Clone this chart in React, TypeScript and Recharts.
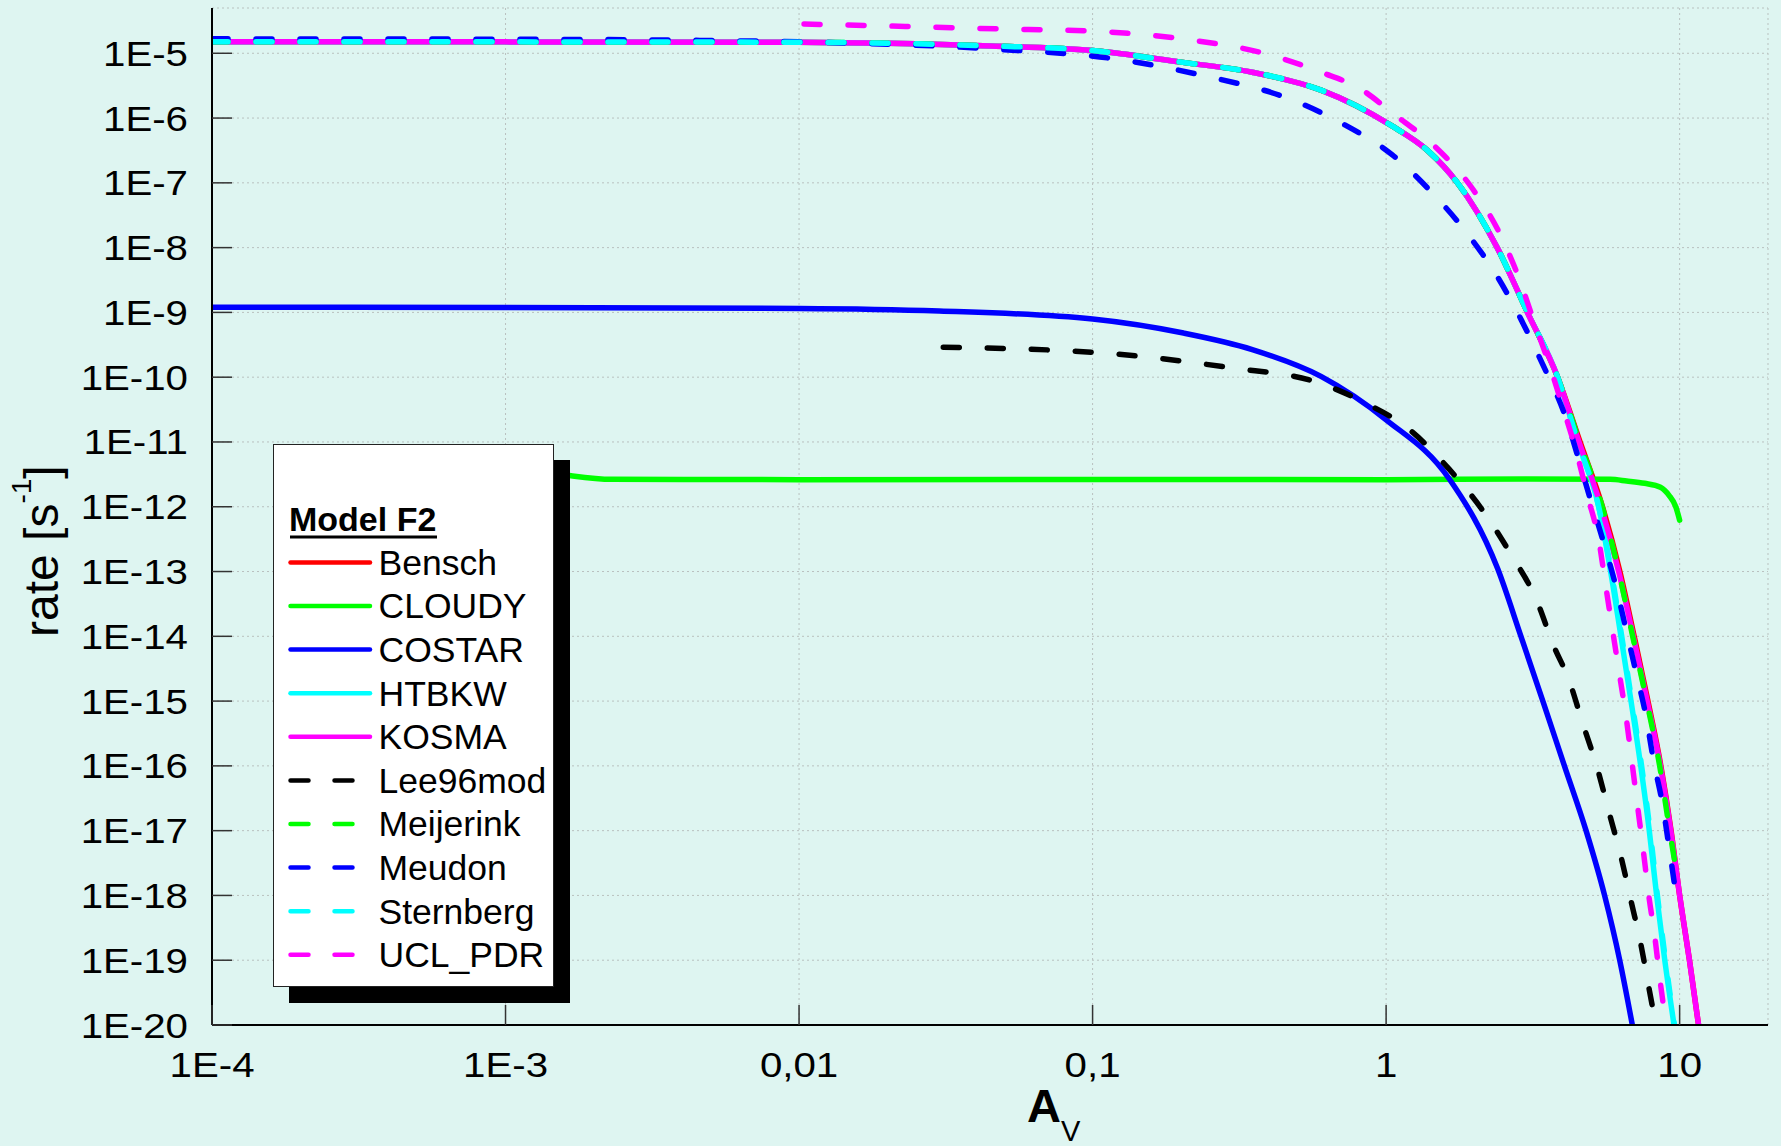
import React from 'react';
import { LineChart, Line, XAxis, YAxis, CartesianGrid } from 'recharts';

const W = 1781;
const H = 1146;
const PLOT_L = 212;
const PLOT_R = 1768;
const PLOT_T = 8;
const PLOT_B = 1025;
const BG = '#def5f1';
const FONT = '"Liberation Sans", Arial, sans-serif';

// axis ticks
const AV_MAJOR = [1e-4, 1e-3, 0.01, 0.1, 1, 10];
const AV_LABELS = ['1E-4', '1E-3', '0,01', '0,1', '1', '10'];
const RATE_MAJOR = [1e-20, 1e-19, 1e-18, 1e-17, 1e-16, 1e-15, 1e-14, 1e-13, 1e-12, 1e-11, 1e-10, 1e-9, 1e-8, 1e-7, 1e-6, 1e-5];
const RATE_LABELS = ['1E-20', '1E-19', '1E-18', '1E-17', '1E-16', '1E-15', '1E-14', '1E-13', '1E-12', '1E-11', '1E-10', '1E-9', '1E-8', '1E-7', '1E-6', '1E-5'];

// [A_V, rate] per model
const BENSCH: [number, number][] = [
  [1e-4, 1.5e-5], [1e-3, 1.5e-5], [0.01, 1.48e-5], [0.02, 1.43e-5], [0.045, 1.3e-5], [0.1, 1.1e-5],
  [0.2, 7.3e-6], [0.35, 5.1e-6], [0.6, 2.7e-6], [1.04, 7.7e-7], [1.38, 3.2e-7], [1.75, 1e-7],
  [2.39, 1e-8], [3.03, 1e-9], [3.84, 1e-10], [4.58, 1e-11], [5.46, 1e-12], [6.26, 1e-13],
  [7.0, 1e-14], [7.8, 1e-15], [8.63, 1e-16], [9.35, 1e-17], [10.0, 1e-18], [10.8, 1e-19], [11.6, 1e-20],
];
const CLOUDY: [number, number][] = [
  [1e-3, 4e-12], [1.5e-3, 3.2e-12], [2.3e-3, 2.65e-12], [0.01, 2.62e-12], [0.1, 2.64e-12], [1, 2.62e-12],
  [3, 2.68e-12], [5.8, 2.65e-12], [6.6, 2.5e-12], [7.6, 2.3e-12], [8.6, 2.0e-12], [9.2, 1.5e-12],
  [9.7, 1.0e-12], [10.0, 6.2e-13],
];
const COSTAR: [number, number][] = [
  [1e-4, 1.2e-9], [1e-3, 1.19e-9], [0.01, 1.15e-9], [0.03, 1.05e-9], [0.1, 7.9e-10], [0.204, 4.8e-10],
  [0.35, 2.67e-10], [0.6, 1.03e-10], [1.0, 2.2e-11], [1.64, 2.7e-12], [2.4, 1.1e-13], [2.88, 1e-14],
  [3.42, 1e-15], [4.05, 1e-16], [4.8, 1e-17], [5.55, 1e-18], [6.25, 1e-19], [6.9, 1e-20],
];
const HTBKW: [number, number][] = [
  [1e-4, 1.5e-5], [1e-3, 1.5e-5], [0.01, 1.48e-5], [0.02, 1.43e-5], [0.045, 1.3e-5], [0.1, 1.1e-5],
  [0.2, 7.3e-6], [0.35, 5.1e-6], [0.6, 2.7e-6], [1.04, 7.7e-7], [1.38, 3.2e-7], [1.75, 1e-7],
  [2.39, 1e-8], [3.03, 1e-9], [3.84, 1e-10], [4.5, 1e-11], [5.3, 1e-12], [5.82, 1e-13],
  [6.31, 1e-14], [6.83, 1e-15], [7.37, 1e-16], [7.88, 1e-17], [8.35, 1e-18], [8.9, 1e-19], [9.57, 1e-20],
];
const KOSMA: [number, number][] = [
  [1e-4, 1.5e-5], [1e-3, 1.5e-5], [0.01, 1.48e-5], [0.02, 1.43e-5], [0.045, 1.3e-5], [0.1, 1.1e-5],
  [0.2, 7.3e-6], [0.35, 5.1e-6], [0.6, 2.7e-6], [1.04, 7.7e-7], [1.38, 3.2e-7], [1.75, 1e-7],
  [2.39, 1e-8], [3.03, 1e-9], [3.84, 1e-10], [4.54, 1e-11], [5.4, 1e-12], [6.2, 1e-13],
  [6.95, 1e-14], [7.75, 1e-15], [8.6, 1e-16], [9.33, 1e-17], [10.0, 1e-18], [10.8, 1e-19], [11.6, 1e-20],
];
const LEE96MOD: [number, number][] = [
  [0.031, 2.9e-10], [0.103, 2.4e-10], [0.294, 1.4e-10], [0.59, 8.2e-11], [0.84, 4.1e-11], [1.19, 1.6e-11],
  [1.64, 3.8e-12], [2.16, 8.1e-13], [2.67, 1.8e-13], [3.24, 3.8e-14], [3.73, 7e-15], [4.2, 2.1e-15],
  [4.67, 4.6e-16], [5.25, 9e-17], [5.75, 1.9e-17], [6.31, 4e-18], [6.83, 8.2e-19], [7.37, 1.8e-19],
  [7.88, 3.5e-20], [8.3, 1e-20],
];
const MEIJERINK: [number, number][] = [
  [1e-4, 1.5e-5], [1e-3, 1.5e-5], [0.01, 1.48e-5], [0.02, 1.43e-5], [0.045, 1.3e-5], [0.1, 1.1e-5],
  [0.2, 7.3e-6], [0.35, 5.1e-6], [0.6, 2.7e-6], [1.04, 7.7e-7], [1.38, 3.2e-7], [1.75, 1e-7],
  [2.39, 1e-8], [3.03, 1e-9], [3.84, 1e-10], [4.56, 1e-11], [5.45, 1e-12], [6.2, 1e-13],
  [6.92, 1e-14], [7.72, 1e-15], [8.55, 1e-16], [9.25, 1e-17], [9.74, 2.4e-18],
];
const MEUDON: [number, number][] = [
  [1e-4, 1.67e-5], [1e-3, 1.65e-5], [4.6e-3, 1.58e-5], [0.01, 1.5e-5], [0.045, 1.17e-5], [0.119, 8.2e-6],
  [0.24, 4.5e-6], [0.48, 1.9e-6], [0.71, 8.2e-7], [1.05, 2.7e-7], [1.4, 7.9e-8], [1.88, 1.7e-8],
  [2.39, 3.6e-9], [2.89, 7.6e-10], [3.41, 1.6e-10], [4.04, 2.8e-11], [4.92, 1.5e-12], [5.46, 3.2e-13],
  [6.06, 6e-14], [6.56, 1.3e-14], [7.1, 2.8e-15], [7.67, 6e-16], [8.15, 1.2e-16], [8.75, 2.5e-17],
  [9.21, 5.4e-18], [9.8, 8e-19],
];
const STERNBERG: [number, number][] = [
  [1e-4, 1.5e-5], [1e-3, 1.5e-5], [0.01, 1.48e-5], [0.02, 1.43e-5], [0.045, 1.3e-5], [0.1, 1.1e-5],
  [0.2, 7.3e-6], [0.35, 5.1e-6], [0.6, 2.7e-6], [1.04, 7.7e-7], [1.38, 3.2e-7], [1.75, 1e-7],
  [2.39, 1e-8], [3.03, 1e-9], [3.84, 1e-10], [4.5, 1e-11], [5.3, 1e-12], [5.85, 1e-13],
  [6.35, 1e-14], [6.87, 1e-15], [7.42, 1e-16], [7.93, 1e-17], [8.4, 1e-18], [8.95, 1e-19], [9.6, 1e-20],
];
const UCL_PDR: [number, number][] = [
  [0.0104, 2.83e-5], [0.023, 2.6e-5], [0.05, 2.37e-5], [0.1, 2.2e-5], [0.204, 1.66e-5], [0.39, 9.8e-6],
  [0.6, 5.1e-6], [0.83, 2.7e-6], [1.05, 1.2e-6], [1.47, 3.6e-7], [1.97, 8.1e-8], [2.43, 1.7e-8],
  [2.82, 3.6e-9], [3.19, 7.2e-10], [3.59, 1.6e-10], [4.02, 3.2e-11], [4.44, 7.3e-12], [4.85, 1.5e-12],
  [5.32, 2.8e-13], [5.6, 6e-14], [5.9, 1.3e-14], [6.22, 2.8e-15], [6.56, 6e-16], [6.87, 1.2e-16],
  [7.18, 2.5e-17], [7.5, 5.4e-18], [7.85, 1e-18], [8.24, 2.2e-19], [8.58, 4.8e-20], [9.0, 1e-20],
];

const SERIES = [
  { name: 'Bensch', color: '#ff0000', dashed: false, data: BENSCH },
  { name: 'CLOUDY', color: '#00ff00', dashed: false, data: CLOUDY },
  { name: 'COSTAR', color: '#0000ff', dashed: false, data: COSTAR },
  { name: 'HTBKW', color: '#00ffff', dashed: false, data: HTBKW },
  { name: 'KOSMA', color: '#ff00ff', dashed: false, data: KOSMA },
  { name: 'Lee96mod', color: '#000000', dashed: true, data: LEE96MOD },
  { name: 'Meijerink', color: '#00ff00', dashed: true, data: MEIJERINK },
  { name: 'Meudon', color: '#0000ff', dashed: true, data: MEUDON },
  { name: 'Sternberg', color: '#00ffff', dashed: true, data: STERNBERG },
  { name: 'UCL_PDR', color: '#ff00ff', dashed: true, data: UCL_PDR },
];

// log minor ticks 2..9 in each decade
const minorsOf = (majors: number[], max: number) => {
  const out: number[] = [];
  majors.forEach((m) => {
    for (let k = 2; k <= 9; k++) if (k * m < max * 0.999) out.push(k * m);
  });
  return out;
};
const AV_MINOR = minorsOf(AV_MAJOR, 20);
const RATE_MINOR = minorsOf(RATE_MAJOR, 5e-5);
const AV_ALL = [...AV_MAJOR, ...AV_MINOR].sort((a, b) => a - b);
const RATE_ALL = [...RATE_MAJOR, ...RATE_MINOR].sort((a, b) => a - b);

const findMajor = (list: number[], v: number) => list.findIndex((m) => Math.abs(m - v) / m < 1e-9);
const TICK = '#333';

const BottomMajorTick = (p: any) => {
  const x = p.x;
  const i = findMajor(AV_MAJOR, p.payload.value);
  return (
    <g>
      <line x1={x} x2={x} y1={PLOT_B} y2={PLOT_B - 20} stroke={TICK} strokeWidth={1.5} />
      <text transform={`translate(${x},1077) scale(1.15,1)`} textAnchor="middle" fontSize={35} fontFamily={FONT} fill="#000">
        {AV_LABELS[i]}
      </text>
    </g>
  );
};
const BottomMinorTick = (p: any) => (
  <line x1={p.x} x2={p.x} y1={PLOT_B} y2={PLOT_B - 10} stroke={TICK} strokeWidth={1.5} />
);
const TopTick = (p: any) => {
  const major = findMajor(AV_MAJOR, p.payload.value) >= 0;
  return <line x1={p.x} x2={p.x} y1={PLOT_T} y2={PLOT_T + (major ? 20 : 10)} stroke={TICK} strokeWidth={1.5} />;
};
const LeftMajorTick = (p: any) => {
  const y = p.y;
  const i = findMajor(RATE_MAJOR, p.payload.value);
  return (
    <g>
      <line x1={PLOT_L} x2={PLOT_L + 20} y1={y} y2={y} stroke={TICK} strokeWidth={1.5} />
      <text transform={`translate(188,${y + 12.5}) scale(1.15,1)`} textAnchor="end" fontSize={35} fontFamily={FONT} fill="#000">
        {RATE_LABELS[i]}
      </text>
    </g>
  );
};
const LeftMinorTick = (p: any) => (
  <line x1={PLOT_L} x2={PLOT_L + 10} y1={p.y} y2={p.y} stroke={TICK} strokeWidth={1.5} />
);
const RightTick = (p: any) => {
  const major = findMajor(RATE_MAJOR, p.payload.value) >= 0;
  return <line x1={PLOT_R} x2={PLOT_R - (major ? 20 : 10)} y1={p.y} y2={p.y} stroke={TICK} strokeWidth={1.5} />;
};

const LegendBox = () => {
  const w = 281;
  const h = 543;
  return (
    <div
      style={{
        position: 'absolute',
        left: 273,
        top: 444,
        width: w,
        height: h,
        background: '#fff',
        border: '1px solid #222',
        boxSizing: 'border-box',
        boxShadow: '16px 16px 0 #000',
      }}
    >
      <svg width={w} height={h} style={{ position: 'absolute', left: -1, top: -1 }}>
        <text x={16} y={87} fontSize={34} fontWeight="bold" fontFamily={FONT} fill="#000">
          Model F2
        </text>
        <rect x={17} y={91.5} width={147} height={3} fill="#000" />
        {SERIES.map((s, i) => {
          const cy = 118.4 + 43.6 * i;
          return (
            <g key={s.name}>
              <line
                x1={17.5}
                x2={97}
                y1={cy}
                y2={cy}
                stroke={s.color}
                strokeWidth={4.5}
                strokeLinecap="round"
                strokeDasharray={s.dashed ? '18 26' : undefined}
              />
              <text x={105.5} y={cy + 12.4} fontSize={35.5} fontFamily={FONT} fill="#000">
                {s.name}
              </text>
            </g>
          );
        })}
      </svg>
    </div>
  );
};

const logX = { type: 'number' as const, scale: 'log' as const, domain: [1e-4, 20], allowDataOverflow: true, dataKey: 'av', interval: 0 as const, tickLine: false };
const logY = { type: 'number' as const, scale: 'log' as const, domain: [1e-20, 5e-5], allowDataOverflow: true, interval: 0 as const, tickLine: false };
const frame = { stroke: '#000', strokeWidth: 2 };

export default function App() {
  return (
    <div style={{ position: 'absolute', left: 0, top: 0, width: W, height: H, background: BG, overflow: 'hidden' }}>
      <LineChart width={W} height={H} margin={{ top: PLOT_T, right: W - PLOT_R, bottom: 0, left: 0 }}>
        <CartesianGrid stroke="#b9c1bf" strokeWidth={1} strokeDasharray="2 3" />
        <XAxis {...logX} ticks={AV_MAJOR} tick={BottomMajorTick} axisLine={frame} height={H - PLOT_B} />
        <XAxis {...logX} xAxisId="bminor" ticks={AV_MINOR} tick={BottomMinorTick} axisLine={false} height={0} />
        <XAxis {...logX} xAxisId="top" orientation="top" ticks={AV_ALL} tick={TopTick} axisLine={frame} height={0} />
        <YAxis {...logY} ticks={RATE_MAJOR} tick={LeftMajorTick} axisLine={frame} width={PLOT_L} />
        <YAxis {...logY} yAxisId="lminor" ticks={RATE_MINOR} tick={LeftMinorTick} axisLine={false} width={0} />
        <YAxis {...logY} yAxisId="right" orientation="right" ticks={RATE_ALL} tick={RightTick} axisLine={frame} width={0} />
        {SERIES.map((s) => (
          <Line
            key={s.name}
            name={s.name}
            data={s.data.map(([av, r]) => ({ av, r }))}
            dataKey="r"
            type="monotone"
            stroke={s.color}
            strokeWidth={5.5}
            strokeLinecap="round"
            strokeDasharray={s.dashed ? '16 28' : undefined}
            dot={false}
            activeDot={false}
            isAnimationActive={false}
          />
        ))}
      </LineChart>

      <svg width={W} height={H} style={{ position: 'absolute', left: 0, top: 0, pointerEvents: 'none' }}>
        <text transform="translate(58,637) rotate(-90)" fontSize={48} fontFamily={FONT} fill="#000">
          rate [s
          <tspan fontSize={28} dy={-26.6}>
            -1
          </tspan>
          <tspan dy={26.6}>]</tspan>
        </text>
        <text x={1027} y={1121.7} fontSize={47} fontWeight="bold" fontFamily={FONT} fill="#000">
          A
          <tspan fontSize={29} fontWeight="normal" dy={19}>
            V
          </tspan>
        </text>
      </svg>

      <LegendBox />
    </div>
  );
}
